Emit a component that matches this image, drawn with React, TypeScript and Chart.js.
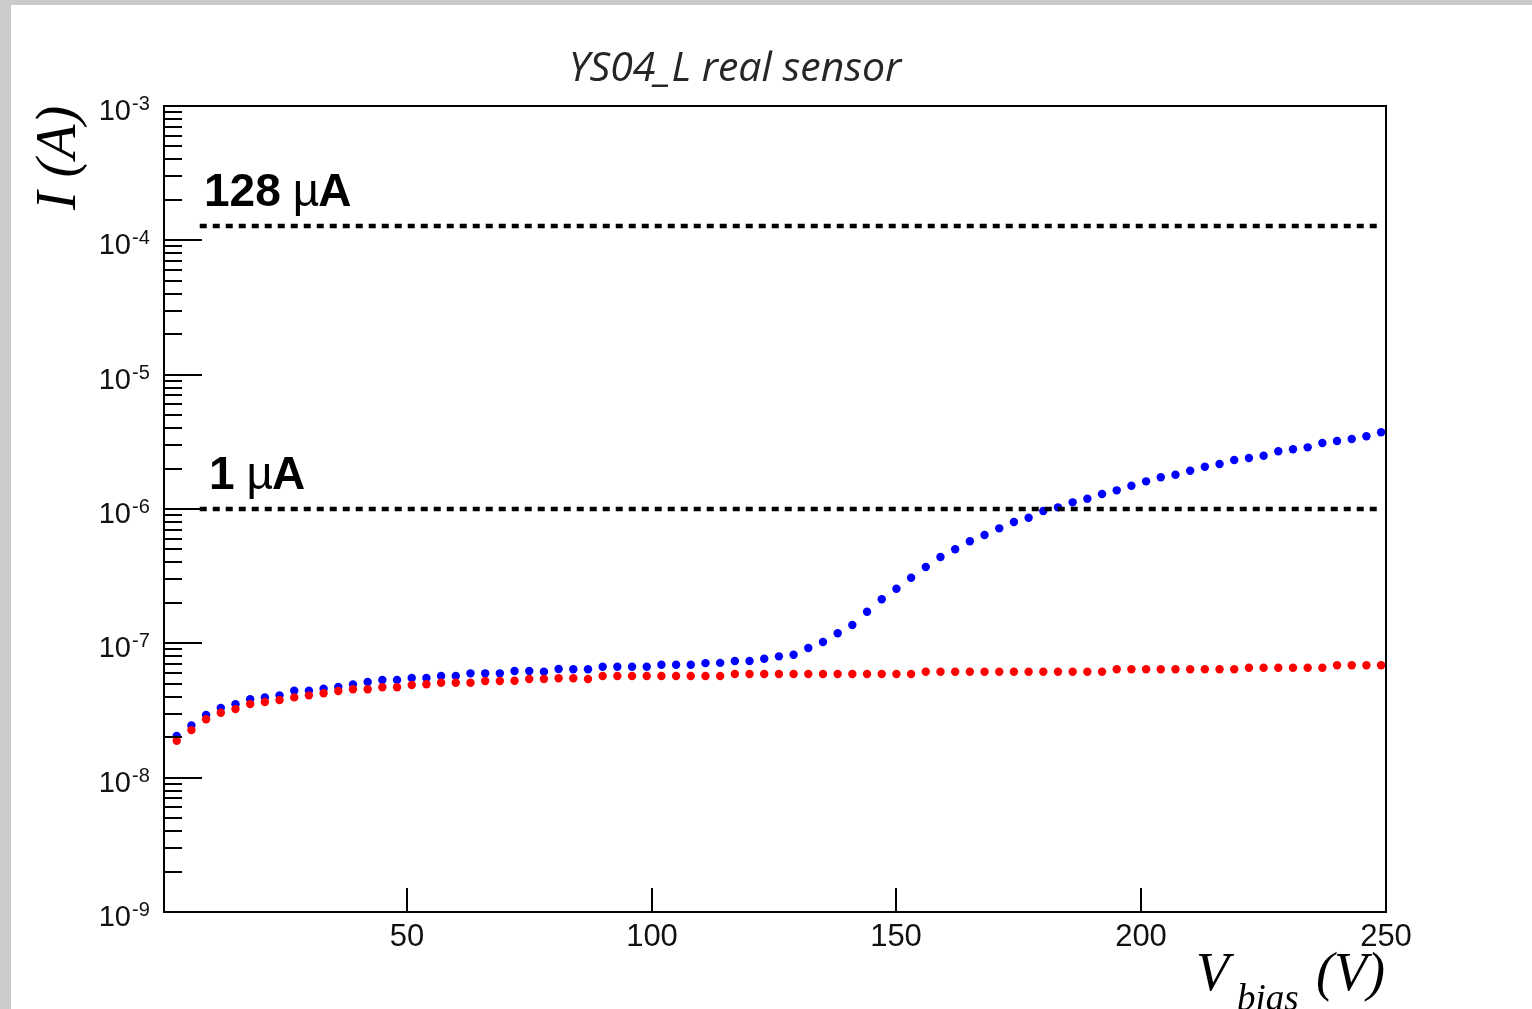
import React, { useEffect, useRef } from "react";
import { Chart, registerables } from "chart.js";

Chart.register(...registerables);

const titleText = "YS04_L real sensor";
const yAxisTitle = "I (A)";
const xAxisMain = "V";
const xAxisSub = "bias";
const xAxisUnit = "(V)";

const voltages = [
  3, 6, 9, 12, 15, 18, 21, 24, 27, 30, 33, 36, 39, 42, 45, 48, 51, 54, 57, 60,
  63, 66, 69, 72, 75, 78, 81, 84, 87, 90, 93, 96, 99, 102, 105, 108, 111, 114, 117, 120,
  123, 126, 129, 132, 135, 138, 141, 144, 147, 150, 153, 156, 159, 162, 165, 168, 171, 174, 177, 180,
  183, 186, 189, 192, 195, 198, 201, 204, 207, 210, 213, 216, 219, 222, 225, 228, 231, 234, 237, 240,
  243, 246, 249,
];

const blueCurrent = [
  2.04e-8, 2.45e-8, 2.93e-8, 3.3e-8, 3.52e-8, 3.83e-8, 3.96e-8, 4.1e-8, 4.44e-8, 4.44e-8,
  4.59e-8, 4.73e-8, 4.95e-8, 5.15e-8, 5.33e-8, 5.33e-8, 5.52e-8, 5.52e-8, 5.71e-8, 5.71e-8,
  5.98e-8, 5.98e-8, 5.98e-8, 6.22e-8, 6.22e-8, 6.14e-8, 6.44e-8, 6.41e-8, 6.41e-8, 6.7e-8,
  6.7e-8, 6.7e-8, 6.7e-8, 6.93e-8, 6.93e-8, 6.93e-8, 7.12e-8, 7.15e-8, 7.38e-8, 7.38e-8,
  7.68e-8, 8.0e-8, 8.22e-8, 9.23e-8, 1.023e-7, 1.188e-7, 1.369e-7, 1.719e-7, 2.127e-7, 2.55e-7,
  3.08e-7, 3.7e-7, 4.39e-7, 5.01e-7, 5.75e-7, 6.4e-7, 7.18e-7, 8.0e-7, 8.61e-7, 9.66e-7,
  1.029e-6, 1.121e-6, 1.193e-6, 1.293e-6, 1.377e-6, 1.49e-6, 1.607e-6, 1.722e-6, 1.8e-6, 1.928e-6,
  2.065e-6, 2.163e-6, 2.316e-6, 2.396e-6, 2.492e-6, 2.689e-6, 2.782e-6, 2.878e-6, 3.098e-6, 3.206e-6,
  3.319e-6, 3.476e-6, 3.724e-6,
];

const redCurrent = [
  1.88e-8, 2.26e-8, 2.72e-8, 3.04e-8, 3.24e-8, 3.53e-8, 3.66e-8, 3.79e-8, 3.96e-8, 4.1e-8,
  4.25e-8, 4.42e-8, 4.55e-8, 4.55e-8, 4.71e-8, 4.71e-8, 4.89e-8, 4.96e-8, 5.09e-8, 5.09e-8,
  5.09e-8, 5.24e-8, 5.24e-8, 5.27e-8, 5.42e-8, 5.42e-8, 5.49e-8, 5.49e-8, 5.42e-8, 5.71e-8,
  5.71e-8, 5.71e-8, 5.71e-8, 5.71e-8, 5.71e-8, 5.71e-8, 5.71e-8, 5.71e-8, 5.91e-8, 5.91e-8,
  5.91e-8, 5.91e-8, 5.91e-8, 5.91e-8, 5.91e-8, 5.91e-8, 5.91e-8, 5.91e-8, 5.91e-8, 5.91e-8,
  5.91e-8, 6.14e-8, 6.14e-8, 6.14e-8, 6.14e-8, 6.14e-8, 6.14e-8, 6.14e-8, 6.14e-8, 6.14e-8,
  6.14e-8, 6.14e-8, 6.14e-8, 6.14e-8, 6.41e-8, 6.41e-8, 6.41e-8, 6.41e-8, 6.41e-8, 6.41e-8,
  6.41e-8, 6.41e-8, 6.41e-8, 6.58e-8, 6.58e-8, 6.58e-8, 6.58e-8, 6.58e-8, 6.58e-8, 6.86e-8,
  6.86e-8, 6.86e-8, 6.86e-8,
];

const limitLevels = [1.28e-4, 1e-6];
const limitLabelsNum = ["128", "1"];
const limitSpan = [7.7, 248.6];

const xTicks = [50, 100, 150, 200, 250];
const yDecades = [-9, -8, -7, -6, -5, -4, -3];

const FRAME = { left: 164, top: 106, right: 1386, bottom: 912 };
const W = 1532;
const H = 1009;

const rootPlugin = {
  id: "rootStyle",
  afterDraw(chart: any) {
    const { ctx, chartArea: ca, scales } = chart;
    const x = scales.x;
    const y = scales.y;
    ctx.save();
    ctx.strokeStyle = "#000";
    ctx.fillStyle = "#000";
    ctx.lineWidth = 2;
    ctx.strokeRect(ca.left, ca.top, ca.right - ca.left, ca.bottom - ca.top);
    yDecades.forEach((e) => {
      const py = Math.round(y.getPixelForValue(Math.pow(10, e)));
      ctx.beginPath();
      ctx.moveTo(ca.left, py);
      ctx.lineTo(ca.left + 38, py);
      ctx.stroke();
      if (e < -3) {
        for (let m = 2; m <= 9; m++) {
          const pm = Math.round(y.getPixelForValue(m * Math.pow(10, e)));
          ctx.beginPath();
          ctx.moveTo(ca.left, pm);
          ctx.lineTo(ca.left + 18, pm);
          ctx.stroke();
        }
      }
      ctx.fillStyle = "#111";
      ctx.font = "29px 'Liberation Sans', Arial, sans-serif";
      ctx.textAlign = "right";
      ctx.textBaseline = "alphabetic";
      ctx.fillText("10", 131, py + 14);
      ctx.font = "20px 'Liberation Sans', Arial, sans-serif";
      ctx.textAlign = "left";
      ctx.fillText(String(e), 132, py + 4);
    });
    xTicks.forEach((v) => {
      const px = Math.round(x.getPixelForValue(v));
      if (v < 250) {
        ctx.beginPath();
        ctx.moveTo(px, ca.bottom);
        ctx.lineTo(px, ca.bottom - 24);
        ctx.stroke();
      }
      ctx.fillStyle = "#111";
      ctx.font = "31px 'Liberation Sans', Arial, sans-serif";
      ctx.textAlign = "center";
      ctx.fillText(String(v), px, ca.bottom + 34);
    });
    limitLevels.forEach((lv, i) => {
      const py = y.getPixelForValue(lv);
      const base = py - 20;
      const x0 = i === 0 ? 204 : 209;
      ctx.fillStyle = "#000";
      ctx.textAlign = "left";
      ctx.font = "bold 46px 'Liberation Sans', Arial, sans-serif";
      const num = limitLabelsNum[i];
      ctx.fillText(num, x0, base);
      const w = ctx.measureText(num).width;
      ctx.font = "46px 'Liberation Sans', Arial, sans-serif";
      ctx.fillText("\u00B5", x0 + w + 12, base);
      const wm = ctx.measureText("\u00B5").width;
      ctx.font = "bold 46px 'Liberation Sans', Arial, sans-serif";
      ctx.fillText("A", x0 + w + 12 + wm - 1, base);
    });
    ctx.fillStyle = "#262626";
    ctx.font = "italic 41px 'Open Sans', 'Noto Sans', sans-serif";
    ctx.textAlign = "center";
    ctx.fillText(titleText, 735, 81);
    ctx.save();
    ctx.translate(75, 158);
    ctx.rotate(-Math.PI / 2);
    ctx.fillStyle = "#000";
    ctx.font = "italic 56px 'Liberation Serif', 'Times New Roman', serif";
    ctx.textAlign = "center";
    ctx.fillText(yAxisTitle, 0, 0);
    ctx.restore();
    ctx.fillStyle = "#000";
    ctx.textAlign = "left";
    ctx.font = "italic 54px 'Liberation Serif', 'Times New Roman', serif";
    ctx.fillText(xAxisMain, 1196, 990);
    ctx.font = "italic 37px 'Liberation Serif', 'Times New Roman', serif";
    ctx.fillText(xAxisSub, 1237, 1010);
    ctx.font = "italic 54px 'Liberation Serif', 'Times New Roman', serif";
    ctx.fillText(xAxisUnit, 1316, 990);
    ctx.restore();
  },
};

export default function App() {
  const ref = useRef<HTMLCanvasElement | null>(null);
  useEffect(() => {
    if (!ref.current) return;
    const red = voltages.map((v, i) => ({ x: v, y: redCurrent[i] }));
    const blue = voltages.map((v, i) => ({ x: v, y: blueCurrent[i] }));
    const limitSets = limitLevels.map((lv) => ({
      type: "line" as const,
      data: limitSpan.map((v) => ({ x: v, y: lv })),
      borderColor: "#000",
      borderWidth: 4.5,
      borderDash: [7, 6],
      pointRadius: 0,
      showLine: true,
      fill: false,
    }));
    const chart = new Chart(ref.current, {
      type: "scatter",
      data: {
        datasets: [
          ...limitSets,
          {
            data: red,
            backgroundColor: "#ff0000",
            borderWidth: 0,
            pointRadius: 4.2,
            pointHoverRadius: 4.2,
          },
          {
            data: blue,
            backgroundColor: "#0000ff",
            borderWidth: 0,
            pointRadius: 4.2,
            pointHoverRadius: 4.2,
          },
        ] as any,
      },
      options: {
        animation: false,
        responsive: false,
        devicePixelRatio: 1,
        layout: {
          padding: {
            left: FRAME.left,
            top: FRAME.top,
            right: W - FRAME.right,
            bottom: H - FRAME.bottom,
          },
        },
        scales: {
          x: { type: "linear", min: 0.4, max: 250, display: false },
          y: { type: "logarithmic", min: 1e-9, max: 1e-3, display: false },
        },
        plugins: {
          legend: { display: false },
          tooltip: { enabled: false },
          title: { display: false },
        },
        events: [],
      },
      plugins: [rootPlugin],
    });
    return () => chart.destroy();
  }, []);

  return (
    <div
      style={{
        position: "fixed",
        left: 0,
        top: 0,
        width: W,
        height: H,
        background: "#cbcbcb",
        overflow: "hidden",
      }}
    >
      <div
        style={{
          position: "absolute",
          left: 11,
          top: 5,
          right: 0,
          bottom: 0,
          background: "#ffffff",
        }}
      />
      <canvas
        ref={ref}
        width={W}
        height={H}
        style={{ position: "absolute", left: 0, top: 0, width: W, height: H }}
      />
    </div>
  );
}
